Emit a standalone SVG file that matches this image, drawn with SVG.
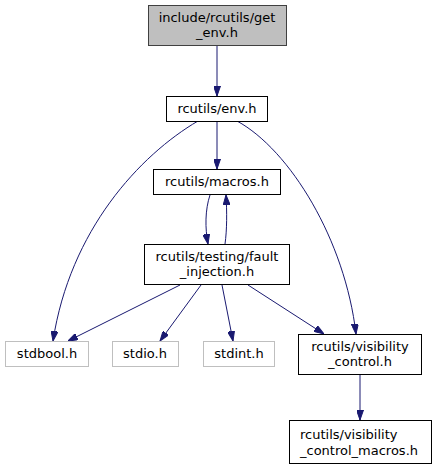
<svg xmlns="http://www.w3.org/2000/svg" width="436" height="469" viewBox="0 0 436 469">
<defs>
<marker id="arr" viewBox="0 0 10 7" refX="10" refY="3.5" markerWidth="10" markerHeight="7" orient="auto" markerUnits="userSpaceOnUse">
<path d="M0,0 L10,3.5 L0,7 Z" fill="#191970" stroke="#191970" stroke-width="1"/>
</marker>
<style>
.n rect{fill:#fff;stroke:#000;stroke-width:1}
.g rect{fill:#fff;stroke:#bfbfbf;stroke-width:1}
.root rect{fill:#bfbfbf;stroke:#404040;stroke-width:1}
text{font-family:"DejaVu Sans","Liberation Sans",sans-serif;font-size:13px;fill:#000;text-anchor:middle}
.e path{fill:none;stroke:#191970;stroke-width:1;marker-end:url(#arr)}
</style>
</defs>
<rect width="436" height="469" fill="#fff"/>
<g class="e" id="edges">
<path d="M217,46 L217,96"/>
<path d="M217,121 L217,169"/>
<path d="M198,121 C140,155 70,230 53,341"/>
<path d="M237,121 C290,150 345,240 356,334"/>
<path d="M210,195 C205,210 205,228 208,244"/>
<path d="M225,244 C227,230 227,212 226,195"/>
<path d="M180,285 L68,341"/>
<path d="M201,285 L160,341"/>
<path d="M222,285 L233,341"/>
<path d="M248,285 L324,334"/>
<path d="M360,373 L360,420"/>
</g>
<g id="node_get_env" class="root"><rect x="148.5" y="5.5" width="138" height="40"/><text x="217" y="22">include/rcutils/get</text><text x="217" y="37">_env.h</text></g>
<g id="node_env" class="n"><rect x="166.5" y="96.5" width="101" height="25"/><text x="217" y="113">rcutils/env.h</text></g>
<g id="node_macros" class="n"><rect x="153.5" y="169.5" width="127" height="25"/><text x="217" y="186">rcutils/macros.h</text></g>
<g id="node_fault" class="n"><rect x="144.5" y="244.5" width="145" height="40"/><text x="217" y="261">rcutils/testing/fault</text><text x="217" y="276">_injection.h</text></g>
<g id="node_stdbool" class="g"><rect x="5.5" y="341.5" width="83" height="25"/><text x="47" y="358">stdbool.h</text></g>
<g id="node_stdio" class="g"><rect x="112.5" y="341.5" width="66" height="25"/><text x="145" y="358">stdio.h</text></g>
<g id="node_stdint" class="g"><rect x="203.5" y="341.5" width="71" height="25"/><text x="239" y="358">stdint.h</text></g>
<g id="node_vis" class="n"><rect x="298.5" y="334.5" width="123" height="40"/><text x="360" y="351">rcutils/visibility</text><text x="360" y="366">_control.h</text></g>
<g id="node_vis_macros" class="n"><rect x="289.5" y="420.5" width="142" height="43"/><text x="300" y="439" style="text-anchor:start">rcutils/visibility</text><text x="300" y="455" style="text-anchor:start">_control_macros.h</text></g>
</svg>
